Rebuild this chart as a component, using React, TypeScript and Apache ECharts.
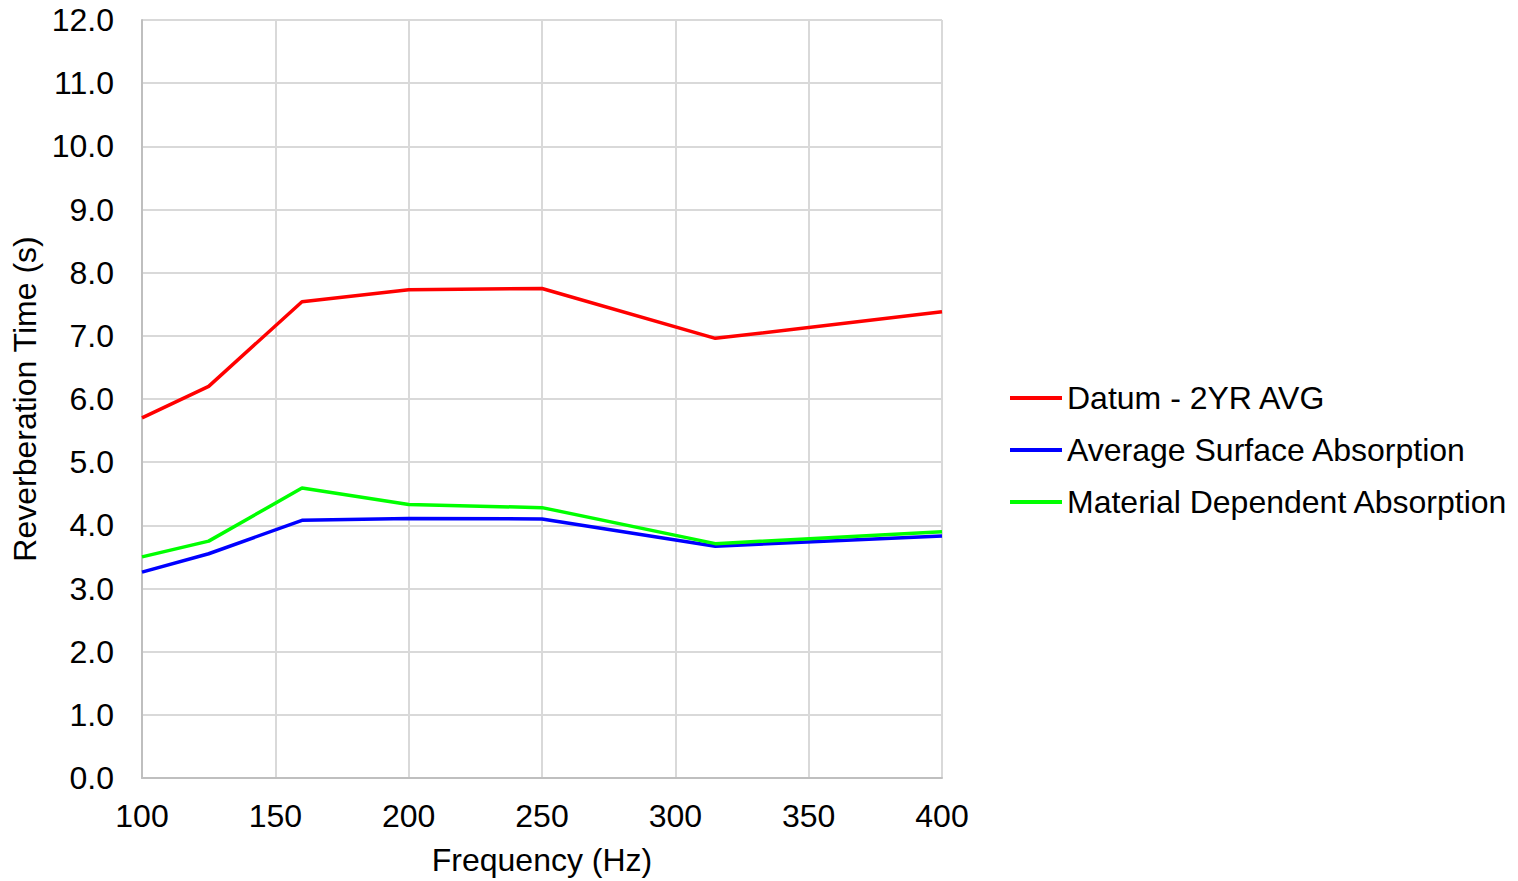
import React, { useEffect, useRef } from "react";
import * as echarts from "echarts";

const frequencies = [100, 125, 160, 200, 250, 315, 400];
const datum = [5.70, 6.20, 7.54, 7.73, 7.75, 6.96, 7.38];
const averageSurface = [3.26, 3.55, 4.08, 4.11, 4.10, 3.67, 3.83];
const materialDependent = [3.50, 3.75, 4.59, 4.33, 4.28, 3.71, 3.90];
const seriesNames = ["Datum - 2YR AVG", "Average Surface Absorption", "Material Dependent Absorption"];
const seriesColors = ["#ff0000", "#0000ff", "#00ff00"];

const FONT = "Liberation Sans, Arial, sans-serif";
const FS = 32;

export default function App() {
  const ref = useRef<HTMLDivElement>(null);
  useEffect(() => {
    if (!ref.current) return;
    const chart = echarts.init(ref.current, null, { renderer: "svg" });
    const all = [datum, averageSurface, materialDependent];
    chart.setOption({
      animation: false,
      backgroundColor: "#ffffff",
      grid: { left: 142, right: 576, top: 20, bottom: 103, containLabel: false, outerBoundsMode: "none" },
      legend: {
        orient: "vertical",
        left: 1005,
        top: 377,
        padding: 5,
        itemWidth: 52,
        itemHeight: 4,
        itemGap: 20,
        icon: "rect",
        textStyle: { fontFamily: FONT, fontSize: FS, color: "#000", lineHeight: 32, padding: [0, 0, 0, 0] },
        data: seriesNames,
      },
      xAxis: {
        type: "value",
        min: 100,
        max: 400,
        interval: 50,
        name: "Frequency (Hz)",
        nameLocation: "middle",
        nameGap: 66,
        nameTextStyle: { fontFamily: FONT, fontSize: FS, color: "#000" },
        axisLine: { show: true, lineStyle: { color: "#bfbfbf", width: 2 } },
        axisTick: { show: false },
        axisLabel: { fontFamily: FONT, fontSize: FS, color: "#000", margin: 22 },
        splitLine: { show: true, lineStyle: { color: "#d9d9d9", width: 2 } },
      },
      yAxis: {
        type: "value",
        min: 0,
        max: 12,
        interval: 1,
        name: "Reverberation Time (s)",
        nameLocation: "middle",
        nameGap: 100,
        nameTextStyle: { fontFamily: FONT, fontSize: FS, color: "#000" },
        axisLine: { show: true, lineStyle: { color: "#bfbfbf", width: 2 } },
        axisTick: { show: false },
        axisLabel: {
          fontFamily: FONT,
          fontSize: FS,
          color: "#000",
          margin: 28,
          formatter: (v: number) => v.toFixed(1),
        },
        splitLine: { show: true, lineStyle: { color: "#d9d9d9", width: 2 } },
      },
      series: seriesNames.map((name, i) => ({
        name,
        type: "line",
        data: frequencies.map((f, j) => [f, all[i][j]]),
        symbol: "none",
        color: seriesColors[i],
        lineStyle: { color: seriesColors[i], width: 3.5 },
        itemStyle: { color: seriesColors[i] },
      })),
    });
    return () => chart.dispose();
  }, []);
  return <div ref={ref} style={{ width: 1518, height: 881, position: "absolute", left: 0, top: 0 }} />;
}
